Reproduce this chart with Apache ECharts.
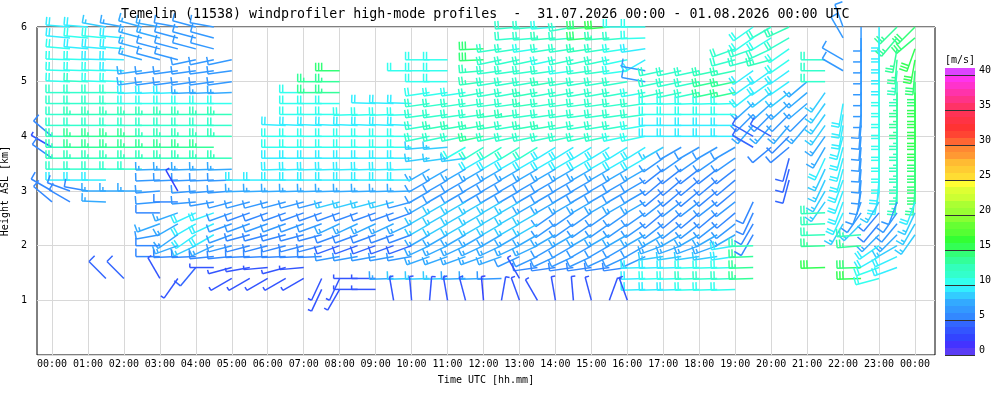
<!DOCTYPE html>
<html>
<head>
<meta charset="utf-8">
<title>Temelin windprofiler</title>
<script src="https://cdn.jsdelivr.net/npm/echarts@6/dist/echarts.min.js"></script>
<style>
html, body { margin: 0; padding: 0; background: #fff; }
#chart { width: 1000px; height: 400px; }
</style>
</head>
<body>
<div id="chart"></div>
<script>
var _ = null;
var FONT = 'DejaVu Sans Mono';

// range gates (km ASL), top to bottom
var levelsKm = [6.0, 5.8, 5.6, 5.4, 5.2, 5.0, 4.8, 4.6, 4.4, 4.2, 4.0, 3.8, 3.6,
                3.4, 3.2, 3.0, 2.8, 2.6, 2.4, 2.2, 2.0, 1.8, 1.6, 1.4, 1.2, 1.0];

// profile times, hours since 31.07. 00:00 UTC
var profileHours = [0, 0.5, 1, 1.5, 2, 2.5, 3, 3.5, 4, 4.5, 5, 5.5, 6, 6.5, 7, 7.5,
                    8, 8.5, 9, 9.5, 10, 10.5, 11, 11.5, 12, 12.5, 13, 13.5, 14, 14.5,
                    15, 15.5, 16, 16.5, 17, 17.5, 18, 18.5, 19, 19.5, 20, 20.5, 21,
                    21.5, 22, 22.5, 23, 23.5, 24];

var hourTicks = [0, 1, 2, 3, 4, 5, 6, 7, 8, 9, 10, 11, 12, 13, 14, 15, 16, 17, 18,
                 19, 20, 21, 22, 23, 24];

var speedTicks = [0, 5, 10, 15, 20, 25, 30, 35, 40];

// one colour per 1 m/s band, 0..41
var speedColors = ['#5a3cf5', '#4433ff', '#3344ff', '#3355ff', '#3366ff', '#3388ff',
  '#3399ff', '#33aaff', '#33ccff', '#33eeff', '#33ffee', '#33ffcc', '#33ffbb',
  '#33ff99', '#33ff77', '#33ff55', '#33ff33', '#55ff33', '#66ff33', '#88ff33',
  '#99ff33', '#aaff33', '#ccff33', '#ddff33', '#ffff33', '#ffdd33', '#ffcc33',
  '#ffbb33', '#ff9933', '#ff8833', '#ff6633', '#ff4433', '#ff3333', '#ff3344',
  '#ff3355', '#ff3366', '#ff3388', '#ff33aa', '#ff33cc', '#ff33ee', '#dd44ff'];

// wind direction (deg, from) per gate (row) and profile (column)
var dirRows = [
  [_,275,275,280,280,285,280,280,285,280, _,_,_,_,_,_,_,_,_,_, _,_,_,_,_,_,265,265,265,260, 265,265,270,270,_,_,_,_,_,235, 240,245,_,_,340,180,180,225,225],
  [_,275,275,275,275,285,285,285,285,285, _,_,_,_,_,_,_,_,_,_, _,_,_,_,_,_,265,265,265,265, 265,265,265,268,_,_,_,_,_,235, 238,240,_,_,330,180,180,220,230],
  [_,275,275,275,275,285,285,285,285,285, _,_,_,_,_,_,_,_,_,_, _,_,_,_,268,262,262,262,262,262, 262,262,262,262,_,_,_,_,250,250, 245,235,_,_,_,180,180,190,200],
  [_,272,272,272,272,285,285,285,258,258, 258,_,_,_,_,_,_,_,_,_, _,270,270,_,268,258,258,258,258,258, 258,258,258,240,_,_,_,_,255,255, 255,235,_,270,300,180,180,185,190],
  [_,272,272,272,272,262,262,262,262,262, 262,_,_,_,_,_,270,_,_,_, 270,270,270,_,265,262,262,262,262,262, 262,262,262,280,258,258,258,258,258,235, 235,235,_,270,300,180,180,185,185],
  [_,272,272,272,272,262,262,262,262,262, 262,_,_,_,_,270,270,_,_,_, _,270,270,_,262,260,260,260,260,260, 260,260,260,280,258,258,258,258,258,235, 235,235,230,270,_,180,180,180,180],
  [_,270,270,270,270,268,268,268,268,268, 268,_,_,_,270,270,270,_,_,_, _,262,262,262,260,260,260,260,260,260, 260,260,260,260,258,258,258,258,258,232, 232,232,230,215,_,180,180,180,180],
  [_,270,270,270,270,270,270,270,270,270, 270,_,_,_,270,270,270,_,272,272, 272,262,262,262,262,262,262,262,262,262, 262,262,262,262,268,268,268,268,268,228, 228,228,230,215,190,180,180,180,180],
  [_,270,270,270,270,270,270,270,270,270, 270,_,_,_,270,270,270,268,268,268, 268,262,262,262,262,262,262,262,262,262, 262,262,262,262,270,270,270,270,270,225, 225,225,225,215,190,185,180,180,180],
  [_,270,270,270,270,270,270,270,270,270, 270,_,_,272,272,272,272,272,272,272, 272,260,260,260,260,260,260,260,260,260, 260,260,260,260,270,270,270,270,270,220, 220,220,220,215,190,185,180,180,180],
  [310,270,270,270,270,270,270,270,270,270, 270,_,_,270,270,270,270,270,270,270, 270,258,258,258,258,258,258,258,258,258, 258,258,258,258,270,270,270,270,270,300, 300,225,_,215,195,185,180,180,180],
  [300,270,270,270,270,270,270,270,270,270, _,_,_,270,270,270,270,270,270,270, 270,265,265,240,238,238,238,238,238,238, 238,238,238,238,240,240,240,240,240,300, 230,230,_,210,195,185,180,180,180],
  [305,270,270,270,270,270,270,270,270,270, 270,_,_,270,270,270,270,270,270,270, 270,262,262,262,240,240,240,240,240,240, 240,240,240,240,235,235,235,235,235,_, _,195,_,205,195,185,180,180,180],
  [_,270,270,270,270,270,268,268,268,268, 268,_,_,268,268,268,268,268,268,268, 268,240,240,240,240,240,240,240,240,240, 240,240,240,240,232,232,232,232,232,_, _,195,_,205,195,185,180,180,180],
  [_,270,270,270,_,_,268,268,268,268, 268,270,270,270,270,270,270,270,270,270, 270,240,240,240,240,240,240,240,240,240, 240,240,240,240,230,230,230,230,230,_, _,195,_,205,200,185,185,180,180],
  [300,290,280,270,270,270,265,330,265,265, 265,268,268,268,268,268,268,268,268,268, 268,240,240,240,240,240,240,240,240,240, 240,240,240,240,230,230,230,230,230,_, _,_,_,210,200,190,190,185,185],
  [310,300,_,272,_,_,265,270,265,260, 255,255,255,255,255,255,255,255,255,255, 255,240,240,240,240,240,240,240,240,240, 240,240,240,240,232,232,232,232,232,205, _,_,_,215,200,200,210,200,200],
  [_,_,_,_,_,_,270,250,245,250, 250,250,250,250,250,250,250,250,250,250, 250,240,240,240,240,240,240,240,235,235, 235,235,235,235,230,230,230,230,230,205, _,_,_,268,205,215,220,215,205],
  [_,_,_,_,_,_,250,240,240,245, 250,250,250,250,250,250,245,245,245,245, 245,240,240,240,240,240,240,240,235,235, 235,235,235,235,232,232,232,232,232,210, _,_,_,268,210,225,220,220,210],
  [_,_,_,_,_,_,260,235,235,240, 250,255,255,255,255,255,250,250,250,250, 250,240,240,240,240,240,240,240,240,240, 240,240,240,240,240,240,240,240,240,210, _,_,_,268,_,265,225,225,215],
  [_,_,_,_,_,_,270,250,245,245, 255,255,255,255,255,255,250,250,250,250, 250,245,245,245,245,245,245,245,240,240, 240,240,240,240,250,250,250,250,260,268, _,_,_,268,_,265,235,240,_],
  [_,_,_,_,_,_,270,268,268,265, 265,268,268,268,268,268,260,260,260,260, 260,250,250,250,250,250,245,245,245,245, 245,245,245,245,262,262,262,262,262,268, _,_,_,_,_,_,240,245,_],
  [_,_,_,_,_,_,_,_,220,270, 255,260,265,255,265,_,_,_,_,_, _,_,_,_,_,_,_,262,262,262, 262,262,262,268,268,268,268,268,268,268, _,_,_,268,_,268,250,250,_],
  [_,_,_,315,315,_,330,215,_,_, 240,240,240,240,240,205,205,270,270,268, 268,268,268,268,268,268,330,_,_,_, _,_,_,268,268,268,268,268,268,268, _,_,_,_,_,268,255,_,_],
  [_,_,_,_,_,_,_,_,_,_, _,_,_,_,_,205,210,270,270,_, _,_,_,_,_,_,_,_,_,_, _,_,_,268,268,268,268,268,268,_, _,_,_,_,_,_,_,_,_],
  [_,_,_,_,_,_,_,_,_,_, _,_,_,_,_,_,_,_,_,350, 355,5,350,345,355,10,340,330,350,355, 345,20,340,_,_,_,_,_,_,_, _,_,_,_,_,_,_,_,_]
];

// wind speed (m/s) per gate (row) and profile (column)
var spdRows = [
  [_,9,9,8,7,7,7,6,6,6, _,_,_,_,_,_,_,_,_,_, _,_,_,_,_,_,11,11,10,11, 14,15,10,10,_,_,_,_,_,10, 11,12,_,_,6,6,9,13,14],
  [_,9,10,10,9,7,7,6,6,6, _,_,_,_,_,_,_,_,_,_, _,_,_,_,_,_,11,11,12,11, 14,12,11,10,_,_,_,_,_,10, 10,11,_,_,6,6,9,13,14],
  [_,10,9,9,9,7,6,6,6,6, _,_,_,_,_,_,_,_,_,_, _,_,_,_,14,11,11,10,11,11, 12,11,10,9,_,_,_,_,11,11, 11,10,_,_,_,6,9,13,15],
  [_,10,10,9,9,7,6,6,6,6, 6,_,_,_,_,_,_,_,_,_, _,10,10,_,14,11,11,11,10,11, 11,11,10,9,_,_,_,_,11,11, 12,10,_,11,6,6,9,13,15],
  [_,10,10,10,9,7,6,6,6,6, 6,_,_,_,_,_,14,_,_,_, 10,10,10,_,12,11,11,11,11,10, 11,11,10,6,11,11,11,12,12,9, 9,9,_,11,6,6,9,12,14],
  [_,10,11,10,10,7,6,6,6,6, 6,_,_,_,_,13,13,_,_,_, _,10,10,_,12,11,11,11,12,11, 11,11,11,6,11,11,11,13,13,9, 9,9,7,11,_,6,10,12,14],
  [_,11,11,11,11,9,9,9,7,7, 7,_,_,_,10,13,13,_,_,_, _,10,10,10,11,11,11,12,11,11, 11,11,11,10,11,11,11,13,13,9, 8,8,7,8,_,6,10,13,15],
  [_,11,11,11,11,10,10,10,10,10, 10,_,_,_,10,10,10,_,9,9, 9,11,11,11,11,11,11,12,11,11, 11,11,11,11,10,10,10,10,10,7, 7,7,7,8,9,6,10,13,15],
  [_,11,12,12,12,12,12,12,12,12, 12,_,_,_,10,10,10,10,10,10, 10,11,11,11,11,12,12,11,11,11, 11,11,11,11,10,10,10,10,10,6, 6,6,6,8,9,6,10,13,15],
  [_,11,11,11,11,11,11,11,11,11, 11,_,_,9,9,9,9,9,9,9, 9,11,12,12,12,12,11,12,12,11, 11,11,11,10,9,9,9,9,9,7, 7,7,7,8,9,6,10,12,15],
  [5,12,13,13,13,13,12,12,12,12, 12,_,_,10,10,10,10,10,10,10, 10,11,11,11,13,11,11,11,11,11, 11,11,10,10,9,9,9,9,9,4, 4,5,_,7,9,6,10,12,15],
  [3,12,13,13,13,13,13,13,13,13, _,_,_,10,10,10,10,10,10,10, 10,8,8,10,11,11,11,11,9,9, 9,9,9,9,8,6,6,6,6,4, 5,5,_,7,9,6,10,12,14],
  [5,12,12,12,12,12,12,12,12,12, 12,_,_,9,9,9,9,9,9,9, 9,8,8,8,9,9,9,9,9,9, 9,9,9,9,6,6,6,6,6,_, _,4,_,9,9,6,10,12,14],
  [_,11,11,11,11,11,7,7,7,7, 7,_,_,9,9,9,9,9,9,9, 9,7,7,7,7,7,7,7,7,7, 7,7,7,7,5,5,5,5,5,_, _,4,_,8,9,6,10,12,14],
  [_,9,9,9,_,_,6,6,6,6, 6,9,9,9,9,9,9,9,9,9, 9,6,6,6,6,6,6,6,6,6, 6,6,6,6,5,5,5,5,5,_, _,4,_,8,9,6,9,12,14],
  [5,5,5,7,7,7,6,2,6,6, 6,7,7,7,7,7,7,7,7,7, 7,6,6,6,6,6,6,6,6,6, 6,6,6,6,5,5,5,5,5,_, _,_,_,8,9,6,9,12,13],
  [5,5,_,7,_,_,6,5,6,6, 6,6,6,6,6,6,8,8,8,8, 6,7,8,8,8,8,8,7,7,7, 7,7,7,7,6,6,6,6,6,5, _,_,_,8,9,6,8,6,9],
  [_,_,_,_,_,_,5,7,9,9, 6,5,5,5,5,5,5,5,5,5, 5,8,8,8,8,8,8,8,6,6, 6,6,6,6,5,5,5,5,5,5, _,_,_,12,9,6,5,6,8],
  [_,_,_,_,_,_,7,7,9,9, 6,6,6,6,6,6,7,7,7,7, 7,8,8,8,8,8,8,8,6,6, 6,6,6,6,6,6,6,6,6,5, _,_,_,12,8,8,5,6,8],
  [_,_,_,_,_,_,6,7,9,9, 6,5,5,5,5,5,5,5,5,5, 5,7,7,7,7,7,7,7,7,7, 7,7,7,7,7,7,7,7,7,5, _,_,_,12,_,12,7,7,8],
  [_,_,_,_,_,_,5,7,8,7, 6,5,5,5,5,5,4,4,4,4, 4,7,7,7,7,7,7,7,6,6, 6,6,6,6,7,7,7,7,9,12, _,_,_,13,_,13,9,8,_],
  [_,_,_,_,_,_,5,5,5,5, 5,5,5,5,5,5,6,6,6,6, 6,7,7,7,7,7,6,6,6,6, 6,6,6,6,8,8,8,8,9,13, _,_,_,_,_,_,9,9,_],
  [_,_,_,_,_,_,_,_,4,3, 3,3,3,3,3,_,_,_,_,_, _,_,_,_,_,_,_,5,5,5, 5,5,5,9,9,9,10,10,10,13, _,_,_,15,_,14,10,9,_],
  [_,_,_,4,4,_,3,3,_,_, 3,3,3,3,3,3,3,3,3,7, 8,8,8,7,7,6,3,_,_,_, _,_,_,9,10,10,11,11,11,13, _,_,_,_,_,15,10,_,_],
  [_,_,_,_,_,_,_,_,_,_, _,_,_,_,_,3,3,3,3,_, _,_,_,_,_,_,_,_,_,_, _,_,_,9,9,9,10,10,10,_, _,_,_,_,_,_,_,_,_],
  [_,_,_,_,_,_,_,_,_,_, _,_,_,_,_,_,_,_,_,3, 3,3,3,3,2,3,3,3,3,3, 3,3,3,_,_,_,_,_,_,_, _,_,_,_,_,_,_,_,_]
];

var barbData = [];
levelsKm.forEach(function (h, i) {
  profileHours.forEach(function (t, c) {
    var d = dirRows[i][c], s = spdRows[i][c];
    if (d !== null && s !== null) barbData.push([t, h, s, d]);
  });
});

var STAFF = 24, FEATHER = 8, STEP = 3;

function seg(x1, y1, x2, y2, color) {
  return { type: 'line', shape: { x1: x1, y1: y1, x2: x2, y2: y2 },
           style: { stroke: color, lineWidth: 1.5 } };
}

function renderBarb(params, api) {
  var p = api.coord([api.value(0), api.value(1)]);
  var spd = api.value(2);
  var a = api.value(3) * Math.PI / 180;
  var color = api.visual('color');
  var ux = Math.sin(a), uy = -Math.cos(a);   // towards where the wind comes from
  var fx = Math.cos(a), fy = Math.sin(a);    // feathers, clockwise of the staff
  var ex = p[0] + STAFF * ux, ey = p[1] + STAFF * uy;
  var kids = [seg(p[0], p[1], ex, ey, color)];
  var n = Math.round(spd / 2.5);
  var full = Math.floor(n / 2), half = n % 2;
  var pos = STAFF;
  for (var k = 0; k < full; k++) {
    var bx = p[0] + pos * ux, by = p[1] + pos * uy;
    kids.push(seg(bx, by, bx + FEATHER * fx, by + FEATHER * fy, color));
    pos -= STEP;
  }
  if (half) {
    var hx = p[0] + pos * ux, hy = p[1] + pos * uy;
    kids.push(seg(hx, hy, hx + FEATHER / 2 * fx, hy + FEATHER / 2 * fy, color));
  }
  return { type: 'group', children: kids };
}

function renderBand(params, api) {
  var i = api.value(1);
  var lo = api.coord([0, i]);
  var hi = api.coord([1, i + 1]);
  return { type: 'rect',
           shape: { x: lo[0], y: hi[1], width: hi[0] - lo[0], height: lo[1] - hi[1] },
           style: { fill: speedColors[i] } };
}

function pad(v) { return (v < 10 ? '0' : '') + v; }

var chart = echarts.init(document.getElementById('chart'));
chart.setOption({
  animation: false,
  backgroundColor: '#fff',
  textStyle: { fontFamily: FONT },
  title: {
    text: 'Temelin (11538) windprofiler high-mode profiles  -  31.07.2026 00:00 - 01.08.2026 00:00 UTC',
    left: 116, top: 3,
    textStyle: { fontFamily: FONT, fontSize: 13.3, fontWeight: 'normal', color: '#000' }
  },
  graphic: [{
    type: 'text', left: 945, top: 55,
    style: { text: '[m/s]', font: '10px "DejaVu Sans Mono"', fill: '#000' }
  }],
  grid: [
    { left: 37, right: 65, top: 27, bottom: 45, show: true, outerBoundsMode: 'none',
      containLabel: false, borderColor: '#000', borderWidth: 1, backgroundColor: 'transparent' },
    { left: 945, width: 30, top: 68, height: 287, outerBoundsMode: 'none', containLabel: false }
  ],
  visualMap: {
    type: 'piecewise', show: false, dimension: 2, seriesIndex: 0,
    pieces: speedColors.map(function (c, i) {
      return i === speedColors.length - 1 ? { gte: i, color: c } : { gte: i, lt: i + 1, color: c };
    })
  },
  xAxis: [{
    type: 'value', gridIndex: 0, min: -0.417, max: 24.556,
    name: 'Time UTC [hh.mm]', nameLocation: 'middle', nameGap: 20,
    nameTextStyle: { fontFamily: FONT, fontSize: 10, color: '#000' },
    axisLine: { show: false },
    axisTick: { show: false, customValues: hourTicks },
    axisLabel: {
      customValues: hourTicks, margin: 4, fontFamily: FONT, fontSize: 10, color: '#000',
      formatter: function (v) { return pad(Math.round(v) % 24) + ':00'; }
    },
    splitLine: { show: true, lineStyle: { color: '#d8d8d8', width: 1 } }
  }, {
    type: 'value', gridIndex: 1, min: 0, max: 1, show: false
  }],
  yAxis: [{
    type: 'value', gridIndex: 0, min: 0, max: 6, interval: 1,
    name: 'Height ASL [km]', nameLocation: 'middle', nameGap: 25,
    nameTextStyle: { fontFamily: FONT, fontSize: 10, color: '#000' },
    axisLine: { show: false }, axisTick: { show: false },
    axisLabel: { margin: 10, fontFamily: FONT, fontSize: 10, color: '#000',
      formatter: function (v) { return v === 0 ? '' : String(v); } },
    splitLine: { show: true, lineStyle: { color: '#d8d8d8', width: 1 } }
  }, {
    type: 'value', gridIndex: 1, position: 'right', min: 0, max: 41, interval: 5,
    z: 5,
    axisLine: { show: false },
    axisTick: { show: true, length: 16, customValues: speedTicks,
                lineStyle: { color: '#333', width: 1 } },
    axisLabel: { customValues: speedTicks, margin: 4, verticalAlign: 'bottom',
                 fontFamily: FONT, fontSize: 10, color: '#000' },
    splitLine: { show: true, lineStyle: { color: '#333', width: 1 } }
  }],
  series: [{
    type: 'custom', name: 'wind', xAxisIndex: 0, yAxisIndex: 0,
    renderItem: renderBarb, data: barbData, silent: true, z: 3
  }, {
    type: 'custom', name: 'scale', xAxisIndex: 1, yAxisIndex: 1,
    renderItem: renderBand,
    data: speedColors.map(function (c, i) { return [0, i]; }),
    silent: true, z: 1
  }]
});
</script>
</body>
</html>
